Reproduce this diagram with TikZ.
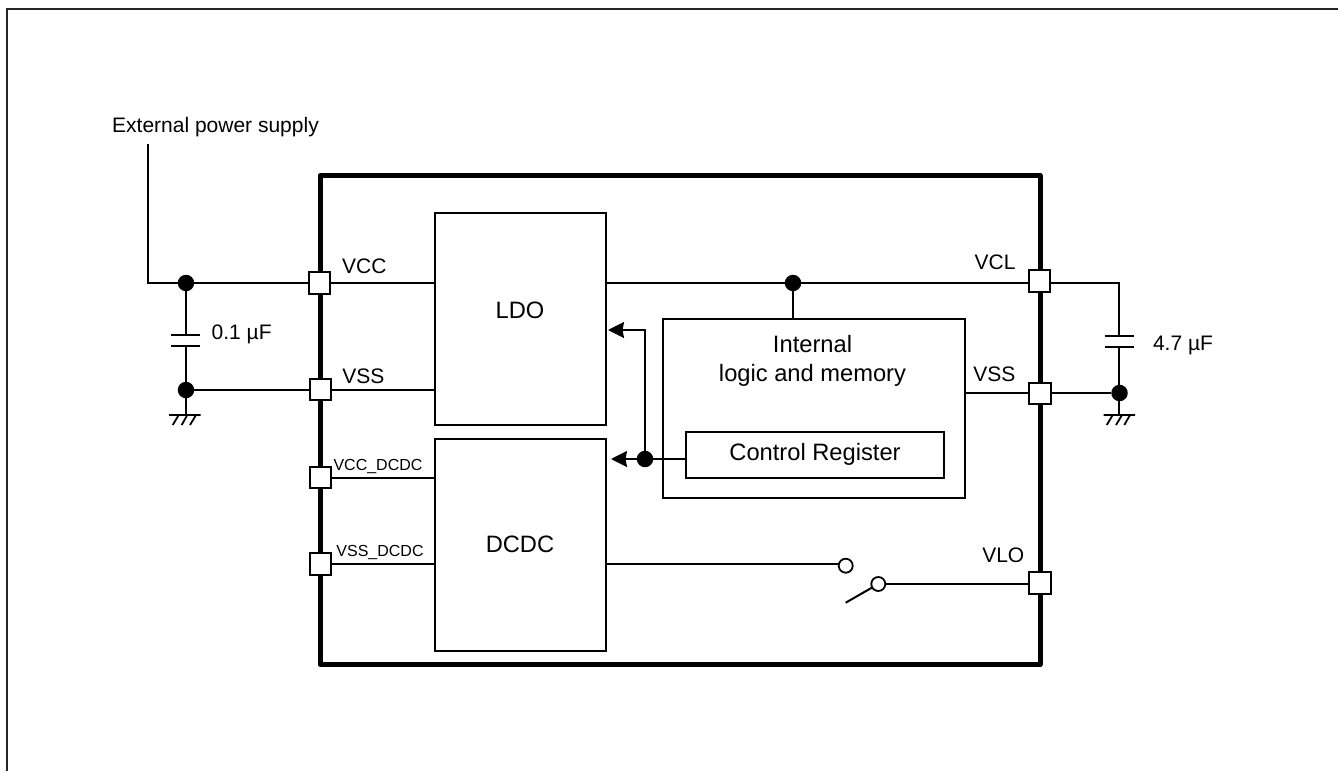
\documentclass[tikz,border=0pt]{standalone}
\usepackage{fontspec}
\setmainfont{Liberation Sans}
\usetikzlibrary{arrows.meta}
\tikzset{
 x=1pt,y=-1pt,
 wire/.style={draw=black,line width=2pt},
 chip/.style={draw=black,line width=5pt,line join=round},
 block/.style={draw=black,line width=2pt,fill=white,inner sep=0pt,outer sep=0pt},
 pin/.style={draw=black,line width=2pt,fill=white,minimum size=21.5pt,inner sep=0pt,outer sep=0pt},
 dot/.style={circle,fill=black,draw=none,minimum size=16.5pt,inner sep=0pt},
 ring/.style={circle,draw=black,line width=1.8pt,fill=white,minimum size=14pt,inner sep=0pt},
 lab/.style={font=\fontsize{21}{25}\selectfont,inner sep=0pt,anchor=base},
 big/.style={font=\fontsize{23.7}{29}\selectfont,inner sep=0pt,align=center},
 small/.style={font=\fontsize{16}{19}\selectfont,inner sep=0pt,anchor=base},
 plate/.style={draw=black,line width=2pt},
 gnd/.style={draw=black,line width=1.8pt},
 tip/.style={-{Stealth[length=16pt,width=16pt,inset=1.5pt]}},
}
\begin{document}
\begin{tikzpicture}
\useasboundingbox (0,0) rectangle (1338,771);
\path[draw=black!85,line width=1.6pt] (7,771) -- (7,9) -- (1338,9);
\draw[chip] (320,175.5) rectangle (1040,664.5);
% blocks
\node[block,minimum width=171pt,minimum height=212pt] (ldo) at (520,319) {};
\node[big] at (520,310) {LDO};
\node[block,minimum width=171pt,minimum height=212pt] (dcdc) at (520,545) {};
\node[big] at (520,544) {DCDC};
\node[block,minimum width=302pt,minimum height=179pt] (logic) at (813.5,408.5) {};
\node[big] at (812.5,361) {Internal\\logic and memory};
\node[block,minimum width=258pt,minimum height=46pt,font=\fontsize{23.7}{29}\selectfont] (reg) at (815,454.5) {Control Register};
% dots and junctions
\node[dot] (d1) at (186,283) {};
\node[dot] (d2) at (186,390) {};
\node[dot] (d3) at (793,283) {};
\node[dot] (d4) at (645,459) {};
\node[dot] (d5) at (1119.5,393) {};
\coordinate (ext) at (148,144);
\coordinate (extb) at (148,283);
\coordinate (capLt) at (186,335);
\coordinate (capLb) at (186,346);
\coordinate (capRt) at (1119,336);
\coordinate (capRb) at (1119,347);
\coordinate (corner) at (1119,283);
% pins
\node[pin] (vcc) at (319.5,283) {};
\node[pin] (vss) at (320.5,389.5) {};
\node[pin] (vccd) at (320.5,477.5) {};
\node[pin] (vssd) at (320.5,564) {};
\node[pin] (vcl) at (1039.5,281) {};
\node[pin] (vssr) at (1040,393.5) {};
\node[pin] (vlo) at (1040,583) {};
% wires
\draw[wire] (ext) -- (extb) -- (d1.center) -- (d1-|vcc.west);
\draw[wire] (d2.center) -- (d2-|vss.west);
\draw[wire] (d1) -- (capLt);
\draw[wire] (capLb) -- (d2);
\draw[wire] (vcc.east) -- (vcc-|ldo.west);
\draw[wire] (d2-|vss.east) -- (d2-|ldo.west);
\draw[wire] (vccd.east|-0,478) -- (ldo.west|-0,478);
\draw[wire] (vssd.east) -- (vssd-|dcdc.west);
\draw[wire] (d3-|ldo.east) -- (d3-|vcl.west);
\draw[wire] (d3) -- (d3|-logic.north);
\draw[wire] (d3-|vcl.east) -- (corner) -- (capRt);
\draw[wire] (capRb) -- (capRb|-d5);
\draw[wire] (d5-|vssr.east) -- (d5);
\draw[wire] (d5-|vssr.west) -- (d5-|logic.east);
\draw[wire] (d4-|reg.west) -- (d4);
% arrows
\coordinate (ldoA) at (608,330);
\coordinate (dcdcA) at (611,459);
\draw[wire,tip] (d4.center) -- (ldoA-|d4) -- (ldoA);
\draw[wire,tip] (d4.center) -- (dcdcA);
% caps
\draw[plate] (171,335) -- (199.5,335) (171,346) -- (199.5,346);
\draw[plate] (1104.5,336) -- (1133.5,336) (1104.5,347) -- (1133.5,347);
% grounds
\draw[gnd] (186,390) -- (186,415) (169,415) -- (200.5,415)
 (178.7,415) -- (172.7,425) (187.3,415) -- (181.7,425) (196,415) -- (190,425);
\draw[gnd] (1119,393) -- (1119,415) (1103.5,415) -- (1135,415)
 (1112.7,415) -- (1106.7,425) (1122,415) -- (1116,425) (1130,415) -- (1124.3,425);
% switch
\coordinate (sw) at (845.7,602.7);
\coordinate (s2c) at (878.3,584);
\draw[wire] (dcdc.east|-0,564) -- (838.7,564);
\draw[wire] (s2c) -- (s2c-|vlo.west);
\draw[wire] (sw) -- (s2c);
\node[ring] (s1) at (845.7,565.7) {};
\node[ring] (s2) at (s2c) {};
% labels
\node[lab] at (215.5,132) {External power supply};
\node[lab] at (364.3,273.3) {VCC};
\node[lab] at (363.3,383.3) {VSS};
\node[small] at (378,470) {VCC\_DCDC};
\node[small] at (380,556.7) {VSS\_DCDC};
\node[lab] at (241.7,339) {0.1 µF};
\node[lab] at (995,269) {VCL};
\node[lab] at (994.3,381.7) {VSS};
\node[lab] at (1003.3,562.7) {VLO};
\node[lab] at (1183,350.7) {4.7 µF};
\end{tikzpicture}
\end{document}
